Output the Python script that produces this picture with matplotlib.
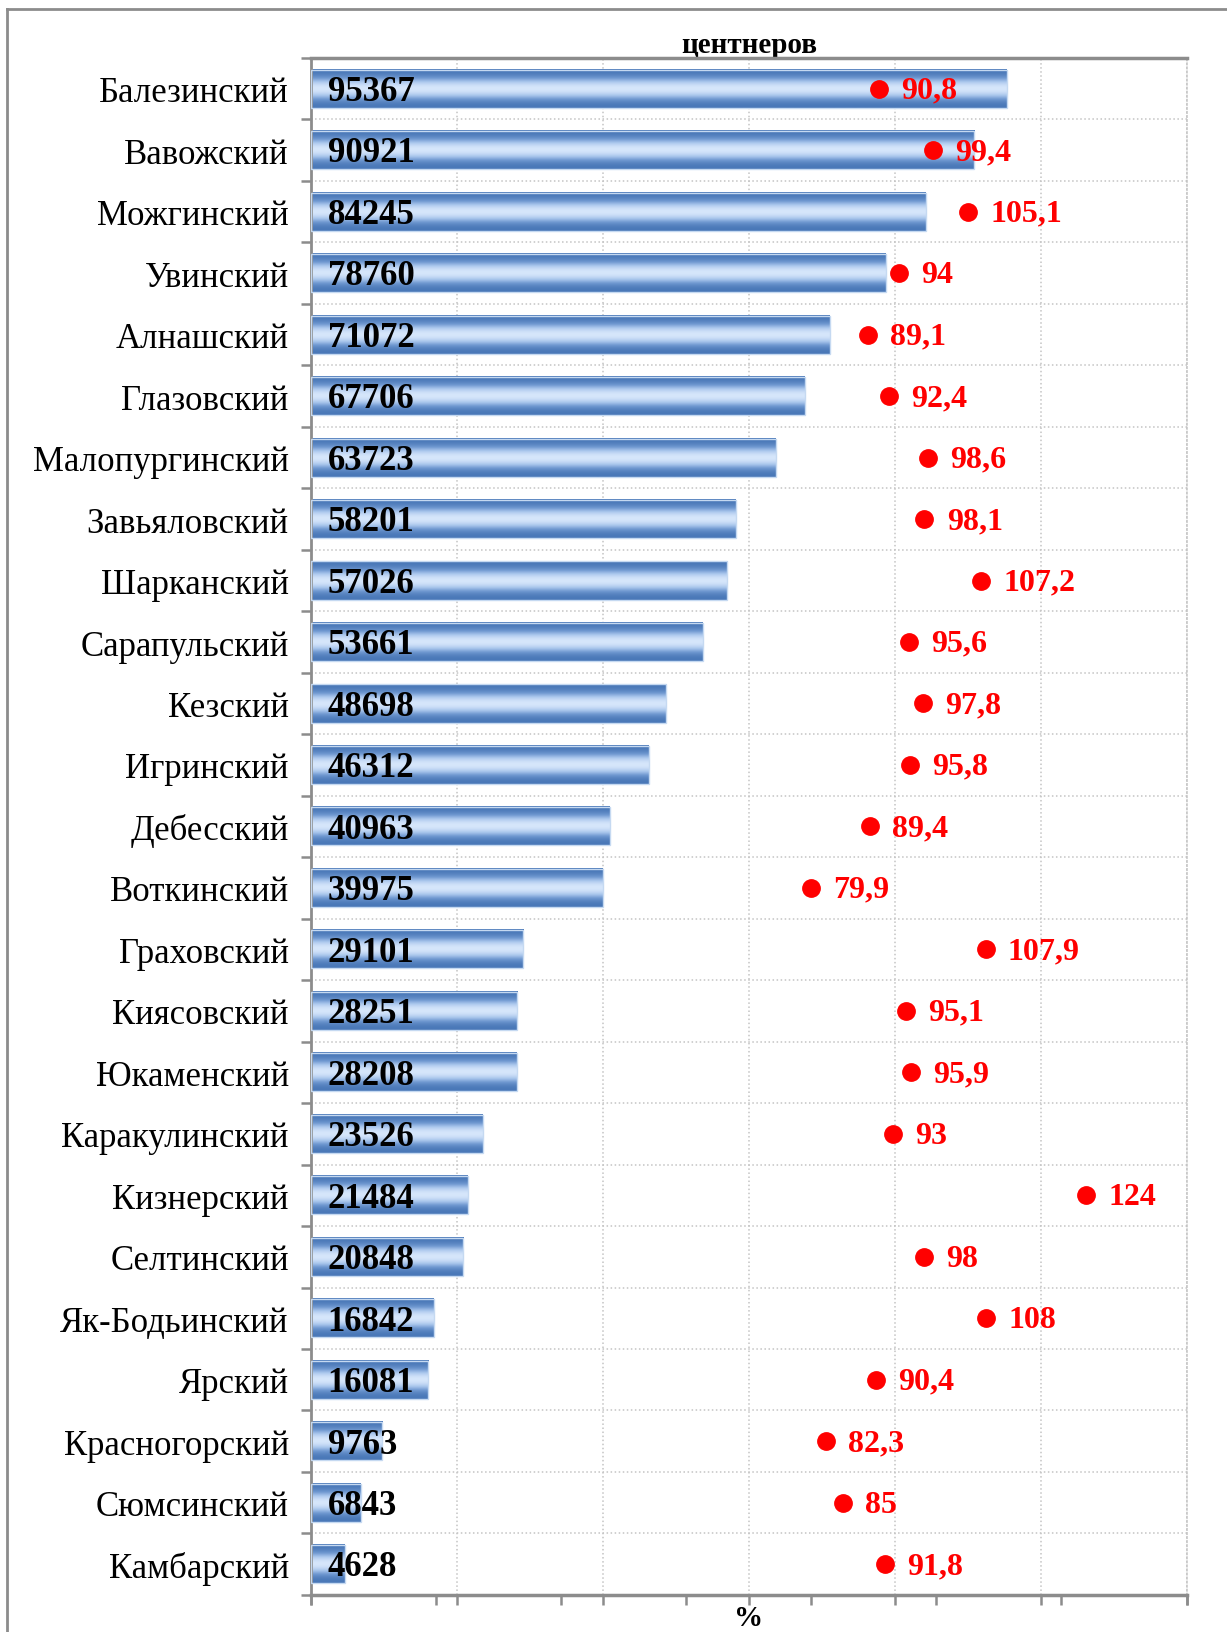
#!/usr/bin/env python3
"""
Horizontal bar chart: valovoy sbor by districts (centners) with % dots
"""

import numpy as np
import matplotlib
matplotlib.use("Agg")
import matplotlib.pyplot as plt
from matplotlib.colors import LinearSegmentedColormap
from matplotlib.lines import Line2D
from matplotlib.patches import Rectangle

plt.rcParams['font.family'] = ['Liberation Serif', 'DejaVu Serif']

districts = ['Балезинский', 'Вавожский', 'Можгинский', 'Увинский', 'Алнашский',
             'Глазовский', 'Малопургинский', 'Завьяловский', 'Шарканский',
             'Сарапульский', 'Кезский', 'Игринский', 'Дебесский', 'Воткинский',
             'Граховский', 'Киясовский', 'Юкаменский', 'Каракулинский',
             'Кизнерский', 'Селтинский', 'Як-Бодьинский', 'Ярский',
             'Красногорский', 'Сюмсинский', 'Камбарский']
centners = [95367, 90921, 84245, 78760, 71072, 67706, 63723, 58201, 57026,
            53661, 48698, 46312, 40963, 39975, 29101, 28251, 28208, 23526,
            21484, 20848, 16842, 16081, 9763, 6843, 4628]
percent = [90.8, 99.4, 105.1, 94, 89.1, 92.4, 98.6, 98.1, 107.2, 95.6, 97.8,
           95.8, 89.4, 79.9, 107.9, 95.1, 95.9, 93, 124, 98, 108, 90.4, 82.3,
           85, 91.8]

GRAY = '#8c8c8c'
GRID = '#c4c4c4'

fig = plt.figure(figsize=(12.27, 16.33), dpi=100)
ax = fig.add_axes([0.2535, 0.0227, 0.7135, 0.9412])

n = len(districts)
y = np.arange(n)
bar_h = 0.62

# gradient fill for the bars (dark edges, light middle)
cmap = LinearSegmentedColormap.from_list('bar', ['#4a78b8', '#6f98d0', '#a9c6ec', '#d6e6fb'])
t = np.linspace(0, 1, 80)
grad = (np.sin(np.pi * t) ** 2.5).reshape(-1, 1)

for i, v in enumerate(centners):
    ax.imshow(grad, extent=[0, v, i + bar_h / 2, i - bar_h / 2], aspect='auto',
              cmap=cmap, vmin=0, vmax=1, zorder=2, interpolation='bilinear')
    ax.add_patch(Rectangle((0, i - bar_h / 2), v, bar_h, fill=False,
                           edgecolor='#c5d9f1', lw=1, zorder=3))
    ax.annotate(str(v), xy=(0, i), xytext=(12, -2), textcoords='offset points',
                ha='left', va='center', fontsize=25, fontweight='bold',
                color='black', zorder=5)

ax.set_xlim(0, 120000)
ax.set_ylim(n - 0.5, -0.5)

# top axis (centners)
ax.xaxis.tick_top()
ax.set_xticks(np.arange(0, 120001, 20000))
ax.set_xticklabels([])
ax.tick_params(axis='x', which='major', direction='out', length=7, width=1.8,
               color=GRAY)
ax.xaxis.set_label_position('top')
ax.set_xlabel('центнеров', fontsize=21, fontweight='bold', labelpad=4)
ax.grid(True, axis='x', linestyle=':', color=GRID, lw=1.1, zorder=0)

# categories
ax.set_yticks(y)
ax.set_yticklabels(districts, fontsize=25)
ax.tick_params(axis='y', which='major', length=0, pad=16)
ax.set_yticks(np.arange(-0.5, n, 1), minor=True)
ax.tick_params(axis='y', which='minor', direction='out', length=7, width=1.8,
               color=GRAY)
ax.grid(True, axis='y', which='minor', linestyle=':', color=GRID, lw=1.1, zorder=0)

ax.spines['top'].set_color(GRAY)
ax.spines['top'].set_linewidth(2.5)
ax.spines['left'].set_color(GRAY)
ax.spines['left'].set_linewidth(2)
ax.spines['bottom'].set_visible(False)
ax.spines['right'].set_color(GRID)
ax.spines['right'].set_linestyle(':')
ax.spines['right'].set_linewidth(1.1)
ax.set_axisbelow(True)

# bottom axis (percent)
ax2 = ax.twiny()
ax2.xaxis.tick_bottom()
ax2.xaxis.set_label_position('bottom')
ax2.set_xlim(0, 140)
ax2.set_xticks(np.arange(0, 141, 20))
ax2.set_xticklabels([])
ax2.tick_params(axis='x', direction='out', length=7, width=1.8, color=GRAY)
ax2.set_xlabel('%', fontsize=21, fontweight='bold', labelpad=-4)
for s in ['top', 'right', 'left']:
    ax2.spines[s].set_visible(False)
ax2.spines['bottom'].set_color(GRAY)
ax2.spines['bottom'].set_linewidth(2.5)

ax2.plot(percent, y, 'o', color='#ff0000', markersize=12.5, zorder=6)
for i, p in enumerate(percent):
    lbl = ('%g' % p).replace('.', ',')
    ax2.annotate(lbl, xy=(p, i), xytext=(16, -1), textcoords='offset points',
                 ha='left', va='center', fontsize=23, fontweight='bold',
                 color='#ff0000', zorder=7)

# outer frame of the slide
fig.add_artist(Line2D([7 / 1227, 7 / 1227], [0, 1 - 10 / 1633],
                      color=GRAY, lw=2, transform=fig.transFigure))
fig.add_artist(Line2D([7 / 1227, 1], [1 - 10 / 1633, 1 - 10 / 1633],
                      color=GRAY, lw=2, transform=fig.transFigure))

fig.savefig('out.png', dpi=100)
